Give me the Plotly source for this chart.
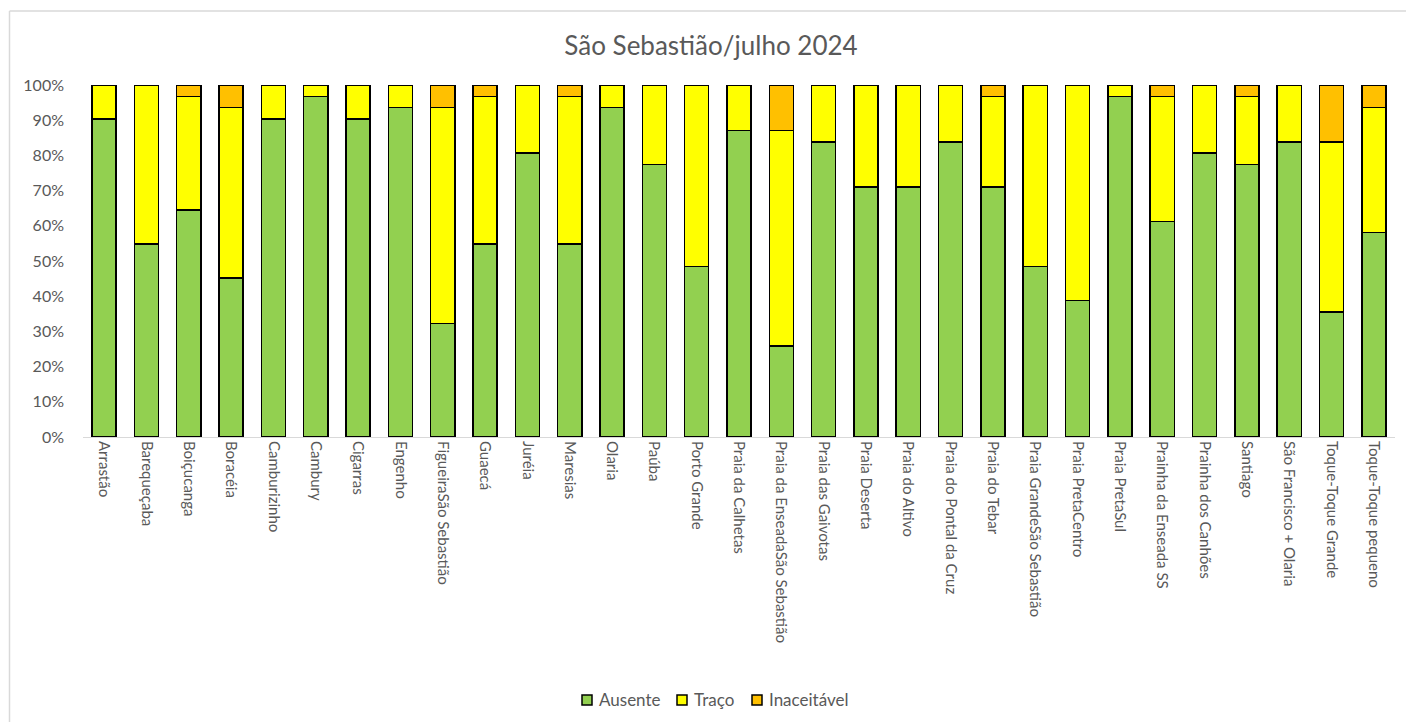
import plotly.graph_objects as go

categories = ["Arrastão", "Barequeçaba", "Boiçucanga", "Boracéia", "Camburizinho", "Cambury",
              "Cigarras", "Engenho", "FigueiraSão Sebastião", "Guaecá", "Juréia", "Maresias",
              "Olaria", "Paúba", "Porto Grande", "Praia da Calhetas", "Praia da EnseadaSão Sebastião",
              "Praia das Gaivotas", "Praia Deserta", "Praia do Altivo", "Praia do Pontal da Cruz",
              "Praia do Tebar", "Praia GrandeSão Sebastião", "Praia PretaCentro", "Praia PretaSul",
              "Prainha da Enseada SS", "Prainha dos Canhões", "Santiago", "São Francisco + Olaria",
              "Toque-Toque Grande", "Toque-Toque pequeno"]

# days per class (July: 31 days)
ausente =     [28, 17, 20, 14, 28, 30, 28, 29, 10, 17, 25, 17, 29, 24, 15, 27, 8, 26, 22, 22, 26, 22, 15, 12, 30, 19, 25, 24, 26, 11, 18]
traco =       [3, 14, 10, 15, 3, 1, 3, 2, 19, 13, 6, 13, 2, 7, 16, 4, 19, 5, 9, 9, 5, 8, 16, 19, 1, 11, 6, 6, 5, 15, 11]
inaceitavel = [0, 0, 1, 2, 0, 0, 0, 0, 2, 1, 0, 1, 0, 0, 0, 0, 4, 0, 0, 0, 0, 1, 0, 0, 0, 1, 0, 1, 0, 5, 2]

series_names = ["Ausente", "Traço", "Inaceitável"]
colors = ["#92D050", "#FFFF00", "#FFC000"]

FONT = "Lato, 'Open Sans', sans-serif"
TXT = "#595959"

L, R, T, B = 83, 11, 85, 285
W, H = 1406, 722
pw, ph = W - L - R, H - T - B
def px2x(px): return (px - L) / pw
def py2y(py): return (H - B - py) / ph

fig = go.Figure()
for name, vals, c in zip(series_names, [ausente, traco, inaceitavel], colors):
    fig.add_trace(go.Bar(x=categories, y=vals, name=name, showlegend=False,
                         marker=dict(color=c, line=dict(color="black", width=1.5))))

shapes = [
    dict(type="line", xref="paper", yref="paper", x0=px2x(9.5), x1=px2x(9.5), y0=py2y(11), y1=py2y(730),
         line=dict(color="#D9D9D9", width=1.5)),
    dict(type="line", xref="paper", yref="paper", x0=px2x(9.5), x1=px2x(1410), y0=py2y(11), y1=py2y(11),
         line=dict(color="#D9D9D9", width=1.5)),
]
annotations = []
legend_sym_x = [582, 677, 752]
for name, c, sx in zip(series_names, colors, legend_sym_x):
    shapes.append(dict(type="rect", xref="paper", yref="paper", x0=px2x(sx), x1=px2x(sx + 10),
                       y0=py2y(705), y1=py2y(695), fillcolor=c, line=dict(color="black", width=1.5)))
    annotations.append(dict(text=name, xref="paper", yref="paper", x=px2x(sx + 15), y=py2y(699.5),
                            xanchor="left", yanchor="middle", showarrow=False,
                            font=dict(size=17, color=TXT, family=FONT)))

fig.update_layout(
    width=W, height=H,
    barmode="stack", barnorm="percent", bargap=0.43,
    margin=dict(l=L, r=R, t=T, b=B),
    paper_bgcolor="white", plot_bgcolor="white",
    font=dict(family=FONT, color=TXT, size=15),
    showlegend=False,
    title=dict(text="São Sebastião/julho 2024", x=px2x(711), xanchor="center", xref="paper",
               y=1 - 46 / H, yanchor="middle", font=dict(size=26, color=TXT, family=FONT)),
    xaxis=dict(tickangle=90, showline=True, linecolor="#D9D9D9", linewidth=1, ticks="",
               tickfont=dict(size=15, color=TXT), showgrid=False),
    yaxis=dict(range=[0, 100], tickvals=list(range(0, 101, 10)),
               ticktext=[f"{v}%" for v in range(0, 101, 10)], showgrid=False, zeroline=False,
               showline=False, tickfont=dict(size=16, color=TXT), ticks="", ticklabelstandoff=18),
    shapes=shapes,
    annotations=annotations,
)

fig.write_html("out.html", config={"displayModeBar": False},
               post_script="document.body.style.margin='0';document.body.style.overflow='hidden';")
